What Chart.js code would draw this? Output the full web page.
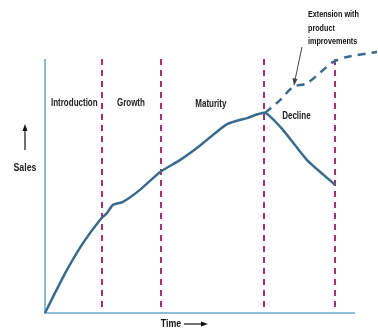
<!DOCTYPE html>
<html>
<head>
<meta charset="utf-8">
<script src="https://cdn.jsdelivr.net/npm/chart.js@4"></script>
<style>
  html, body { margin: 0; padding: 0; background: #fff; }
  #wrap { width: 378px; height: 333px; position: relative; }
</style>
</head>
<body>
<div id="wrap"><canvas id="plc"></canvas></div>
<script>
// Product life cycle (time 0-100, sales 0-100)
var salesCurve = [
  {x: 0, y: 0}, {x: 2.4, y: 5.9}, {x: 6.6, y: 15.8}, {x: 11.4, y: 25.6},
  {x: 16.5, y: 34.1}, {x: 18.6, y: 36.6}, {x: 20.4, y: 39.6}, {x: 23.4, y: 40.7},
  {x: 28.5, y: 45.1}, {x: 34.5, y: 51.6}, {x: 40.5, y: 56.0}, {x: 46.5, y: 61.3},
  {x: 50.5, y: 65.3}, {x: 54.7, y: 69.2}, {x: 60.7, y: 71.4}, {x: 66.1, y: 73.3},
  {x: 71.5, y: 67.0}, {x: 78.7, y: 56.0}, {x: 86.5, y: 47.6}, {x: 87.1, y: 46.9}
];
var extensionCurve = [
  {x: 66.1, y: 73.3}, {x: 70.6, y: 78.0}, {x: 74.5, y: 82.8}, {x: 78.7, y: 84.2},
  {x: 86.5, y: 91.9}, {x: 90.7, y: 93.8}, {x: 99.7, y: 95.6}
];
var phaseBounds = [17.1, 34.8, 65.8, 87.1];
var phaseLabels = ['Introduction', 'Growth', 'Maturity', 'Decline'];
var phaseLabelPos = [{x: 8.8, y: 77}, {x: 25.8, y: 77}, {x: 49.8, y: 76.5}, {x: 75.5, y: 72}];
var axisEnd = 93.1;

var FONT = '"Liberation Sans", "DejaVu Sans", sans-serif';

// narrow text, like the condensed font in the picture
function narrowText(ctx, t, x, y) {
  ctx.fillText(t, x, y, ctx.measureText(t).width * 0.8);
}

// draws axes, phase dividers and all the annotation text
var decorations = {
  id: 'decorations',
  beforeDatasetsDraw: function(chart) {
    var ctx = chart.ctx, xs = chart.scales.x, ys = chart.scales.y;
    var y0 = ys.getPixelForValue(0);
    ctx.save();
    // phase dividers
    ctx.strokeStyle = '#a8306e';
    ctx.lineWidth = 2;
    ctx.setLineDash([6, 5]);
    phaseBounds.forEach(function(b) {
      var px = Math.round(xs.getPixelForValue(b));
      ctx.beginPath();
      ctx.moveTo(px, ys.getPixelForValue(93));
      ctx.lineTo(px, y0 - 2);
      ctx.stroke();
    });
    ctx.setLineDash([]);
    // axes
    ctx.strokeStyle = '#8cbcd6';
    ctx.lineWidth = 2;
    ctx.beginPath();
    ctx.moveTo(xs.getPixelForValue(0), ys.getPixelForValue(93));
    ctx.lineTo(xs.getPixelForValue(0), y0);
    ctx.lineTo(xs.getPixelForValue(axisEnd), y0);
    ctx.stroke();
    ctx.restore();
  },
  afterDatasetsDraw: function(chart) {
    var ctx = chart.ctx, xs = chart.scales.x, ys = chart.scales.y;
    ctx.save();
    ctx.fillStyle = '#222';
    ctx.font = 'bold 10px ' + FONT;
    ctx.textAlign = 'center';
    ctx.textBaseline = 'middle';
    phaseLabels.forEach(function(t, i) {
      narrowText(ctx, t, xs.getPixelForValue(phaseLabelPos[i].x), ys.getPixelForValue(phaseLabelPos[i].y));
    });
    // Sales label + arrow
    ctx.font = 'bold 11px ' + FONT;
    narrowText(ctx, 'Sales', 25, 168);
    ctx.strokeStyle = '#111';
    ctx.fillStyle = '#111';
    ctx.lineWidth = 1.2;
    ctx.beginPath(); ctx.moveTo(25, 150); ctx.lineTo(25, 128); ctx.stroke();
    ctx.beginPath(); ctx.moveTo(25, 124); ctx.lineTo(22.5, 131); ctx.lineTo(27.5, 131); ctx.closePath(); ctx.fill();
    // Time label + arrow
    narrowText(ctx, 'Time', 171, 324);
    ctx.beginPath(); ctx.moveTo(184, 324); ctx.lineTo(204, 324); ctx.stroke();
    ctx.beginPath(); ctx.moveTo(208, 324); ctx.lineTo(201, 321.5); ctx.lineTo(201, 326.5); ctx.closePath(); ctx.fill();
    // extension note
    ctx.font = 'bold 9px ' + FONT;
    ctx.textAlign = 'left';
    narrowText(ctx, 'Extension with', 308, 15);
    narrowText(ctx, 'product', 308, 29);
    narrowText(ctx, 'improvements', 308, 42);
    ctx.strokeStyle = '#444';
    ctx.lineWidth = 1;
    ctx.beginPath(); ctx.moveTo(302, 47); ctx.lineTo(295, 80); ctx.stroke();
    ctx.fillStyle = '#444';
    ctx.beginPath(); ctx.moveTo(294, 86); ctx.lineTo(292.5, 78); ctx.lineTo(297.5, 79); ctx.closePath(); ctx.fill();
    ctx.restore();
  }
};

new Chart(document.getElementById('plc'), {
  type: 'line',
  data: {
    datasets: [
      {
        label: 'Sales',
        data: salesCurve,
        borderColor: '#3a6a8c',
        borderWidth: 2.5,
        pointRadius: 0,
        tension: 0.2,
        clip: false
      },
      {
        label: 'Extension with product improvements',
        data: extensionCurve,
        borderColor: '#3a6a8c',
        borderWidth: 2.5,
        borderDash: [8, 6],
        pointRadius: 0,
        tension: 0.3,
        clip: false
      }
    ]
  },
  options: {
    responsive: true,
    maintainAspectRatio: false,
    animation: false,
    layout: { padding: { left: 45, right: 0, top: 40, bottom: 20 } },
    plugins: { legend: { display: false }, tooltip: { enabled: false } },
    scales: {
      x: { type: 'linear', min: 0, max: 100, display: false },
      y: { type: 'linear', min: 0, max: 100, display: false }
    }
  },
  plugins: [decorations]
});
</script>
</body>
</html>
